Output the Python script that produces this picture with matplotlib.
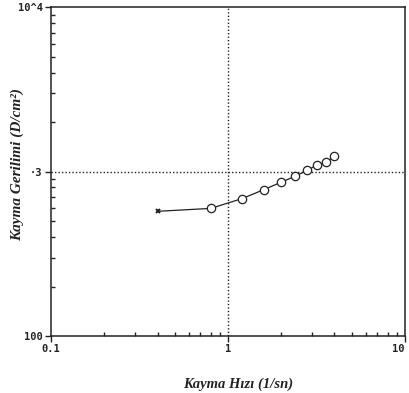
import matplotlib
matplotlib.use("Agg")
import matplotlib.pyplot as plt
from matplotlib.ticker import FixedLocator, NullFormatter, LogLocator

shear_rate = [0.4, 0.8, 1.2, 1.6, 2.0, 2.4, 2.8, 3.2, 3.6, 4.0]
shear_stress = [573, 597, 684, 777, 861, 936, 1015, 1099, 1140, 1240]
x_ticks = [0.1, 1, 10]
x_tick_labels = ["0.1", "1", "10"]
y_ticks = [100, 1000, 10000]
y_tick_labels = ["100", "\u00b73", "10^4"]

fig = plt.figure(figsize=(4.09, 3.93), dpi=100)
ax = fig.add_axes([0.1247, 0.145, 0.865, 0.837])
ax.set_xscale("log")
ax.set_yscale("log")
ax.set_xlim(0.1, 10)
ax.set_ylim(100, 10000)

ax.plot(shear_rate, shear_stress, color="#222222", lw=0.9, zorder=3)
ax.plot(shear_rate[:1], shear_stress[:1], ls="none", marker="x", ms=3.5,
        mew=1.4, color="#222222", zorder=4)
ax.plot(shear_rate[1:], shear_stress[1:], ls="none", marker="o", ms=6,
        mfc="white", mec="#222222", mew=0.9, zorder=4)

ax.axvline(1, color="#222222", ls=(0, (1, 1.5)), lw=1.0, zorder=2)
ax.axhline(1000, color="#222222", ls=(0, (1, 1.5)), lw=1.0, zorder=2)

ax.xaxis.set_major_locator(FixedLocator(x_ticks))
ax.set_xticklabels(x_tick_labels)
ax.yaxis.set_major_locator(FixedLocator(y_ticks))
ax.set_yticklabels(y_tick_labels)
ax.xaxis.set_minor_locator(LogLocator(base=10, subs=range(2, 10)))
ax.yaxis.set_minor_locator(LogLocator(base=10, subs=range(2, 10)))
ax.xaxis.set_minor_formatter(NullFormatter())
ax.yaxis.set_minor_formatter(NullFormatter())

ax.tick_params(which="major", direction="out", length=4, width=1,
               labelsize=7.5, colors="#222222", pad=2)
ax.tick_params(which="minor", direction="in", length=3, width=1,
               colors="#222222")
for lab in ax.get_xticklabels() + ax.get_yticklabels():
    lab.set_fontfamily("DejaVu Sans Mono")
    lab.set_fontweight("bold")
ax.get_xticklabels()[-1].set_horizontalalignment("right")

for s in ax.spines.values():
    s.set_linewidth(1.1)
    s.set_color("#222222")

ax.set_xlabel("Kayma H\u0131z\u0131 (1/sn)", fontfamily="Liberation Serif",
              fontstyle="italic", fontweight="bold", fontsize=10.5,
              color="#222222")
ax.set_ylabel("Kayma Gerilimi (D/cm\u00b2)", fontfamily="Liberation Serif",
              fontstyle="italic", fontweight="bold", fontsize=11,
              color="#222222")
ax.xaxis.set_label_coords(0.53, -0.125)
ax.yaxis.set_label_coords(-0.075, 0.52)

fig.savefig("out.png", dpi=100)
